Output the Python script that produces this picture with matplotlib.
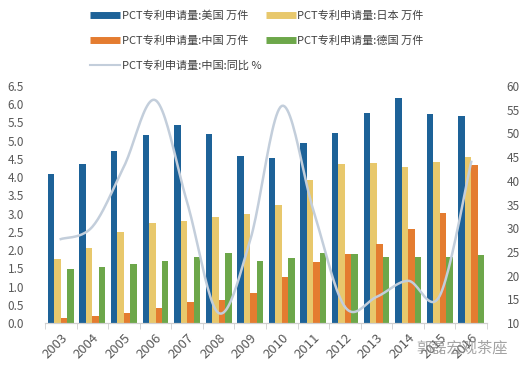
import numpy as np
import matplotlib
matplotlib.use("Agg")
import matplotlib.pyplot as plt
from matplotlib.lines import Line2D

plt.rcParams['font.family'] = ['Noto Sans CJK SC', 'DejaVu Sans']

years = ['2003', '2004', '2005', '2006', '2007', '2008', '2009',
         '2010', '2011', '2012', '2013', '2014', '2015', '2016']
usa = [4.10, 4.36, 4.72, 5.16, 5.42, 5.18, 4.58, 4.52, 4.94, 5.21, 5.76, 6.16, 5.73, 5.68]
japan = [1.75, 2.07, 2.50, 2.73, 2.79, 2.91, 2.99, 3.23, 3.91, 4.36, 4.38, 4.27, 4.42, 4.54]
china = [0.15, 0.19, 0.27, 0.40, 0.58, 0.62, 0.83, 1.26, 1.68, 1.90, 2.16, 2.58, 3.02, 4.34]
germany = [1.47, 1.53, 1.61, 1.69, 1.80, 1.91, 1.69, 1.78, 1.91, 1.89, 1.80, 1.80, 1.80, 1.86]
china_yoy = [27.7, 30.3, 43.0, 57.0, 35.5, 12.1, 27.5, 55.8, 33.8, 13.4, 15.5, 18.9, 15.7, 44.0]

labels = ['PCT专利申请量:美国 万件', 'PCT专利申请量:日本 万件',
          'PCT专利申请量:中国 万件', 'PCT专利申请量:德国 万件',
          'PCT专利申请量:中国:同比 %']
colors = ['#1D6298', '#E8C86C', '#E47C30', '#6DA74A']
line_color = '#C3CEDB'


def smooth(xs, ys, n=24):
    # catmull-rom style smoothing, like excel's smoothed line
    p = np.column_stack([xs, ys]).astype(float)
    p = np.vstack([p[0], p, p[-1]])
    out = []
    for i in range(1, len(p) - 2):
        p0, p1, p2, p3 = p[i - 1], p[i], p[i + 1], p[i + 2]
        t = np.linspace(0, 1, n)[:, None]
        seg = 0.5 * ((2 * p1) + (-p0 + p2) * t + (2 * p0 - 5 * p1 + 4 * p2 - p3) * t ** 2
                     + (-p0 + 3 * p1 - 3 * p2 + p3) * t ** 3)
        out.append(seg)
    out = np.vstack(out)
    return out[:, 0], out[:, 1]


fig = plt.figure(figsize=(5.27, 3.70), dpi=100)
ax = fig.add_axes([45 / 527, 47 / 370, 442 / 527, 237 / 370])
ax2 = ax.twinx()

x = np.arange(len(years))
w = 0.205
series = [usa, japan, china, germany]
offs = [-1.5, -0.5, 0.5, 1.5]
handles = []
for s, c, o in zip(series, colors, offs):
    ax.bar(x + o * w, s, width=w, color=c, zorder=2)
    handles.append(Line2D([], [], color=c, lw=5, solid_capstyle='butt'))

sx, sy = smooth(x, china_yoy)
ax2.plot(sx, sy, color=line_color, lw=1.8, zorder=3)
handles.append(Line2D([], [], color=line_color, lw=1.5))

ax.set_xlim(-0.5, len(years) - 0.5)
ax.set_ylim(0, 6.5)
ax.set_yticks(np.arange(0, 6.51, 0.5))
ax.set_yticklabels(['%.1f' % v for v in np.arange(0, 6.51, 0.5)])
ax2.set_ylim(10, 60)
ax2.set_yticks(np.arange(10, 61, 5))

ax.set_xticks(x)
ax.set_xticklabels(years, rotation=45, ha='right', rotation_mode='anchor')
ax.set_xticks(np.arange(-0.5, len(years), 1), minor=True)
ax.tick_params(axis='x', which='major', length=0, pad=6, labelsize=9.5, labelcolor='#595959')
ax.tick_params(axis='x', which='minor', length=4, color='#D0D0D0')
ax.tick_params(axis='y', length=0, labelsize=8.5, labelcolor='#595959', pad=15)
ax2.tick_params(axis='y', length=0, labelsize=8.5, labelcolor='#595959', pad=14)

for a in (ax, ax2):
    for k in ('top', 'left', 'right'):
        a.spines[k].set_visible(False)
    a.spines['bottom'].set_color('#D0D0D0')
ax.set_zorder(ax2.get_zorder() - 1)
ax.patch.set_visible(False)

order = [0, 2, 4, 1, 3]
fig.legend([handles[i] for i in order], [labels[i] for i in order],
           ncol=2, loc='upper left', bbox_to_anchor=(80 / 527, 0.999),
           frameon=False, fontsize=8, handlelength=2.7, handletextpad=0.15,
           columnspacing=0.4, labelspacing=1.3, labelcolor='#404040')

fig.text(462 / 527, 22 / 370, '郭磊宏观茶座', fontsize=11, color='#8C8C8C',
         ha='center', va='center', alpha=0.8)

fig.savefig('out.png', dpi=100)
